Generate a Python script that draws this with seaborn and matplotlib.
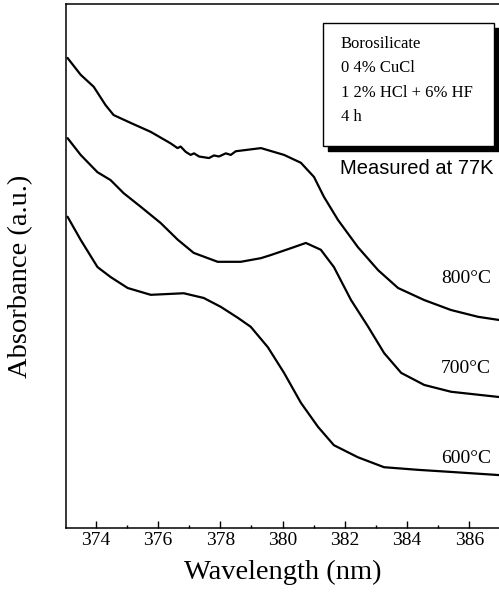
import matplotlib.pyplot as plt
import numpy as np
import pandas as pd
import seaborn as sns
from matplotlib.patches import Rectangle
from matplotlib.ticker import MultipleLocator

# values (absorbance in arbitrary units)
wl_800 = [373.10, 373.52, 373.94, 374.32, 374.58, 375.13, 375.77, 376.41, 376.63,
          376.73, 376.89, 377.05, 377.16, 377.32, 377.64, 377.80, 377.96, 378.18,
          378.34, 378.50, 378.77, 379.31, 380.05, 380.59, 381.01, 381.33, 381.78,
          382.42, 383.07, 383.71, 384.55, 385.41, 386.28, 386.95]
abs_800 = [0.897, 0.865, 0.842, 0.807, 0.788, 0.773, 0.756, 0.734, 0.725,
           0.728, 0.718, 0.712, 0.715, 0.709, 0.706, 0.711, 0.709, 0.715,
           0.712, 0.719, 0.721, 0.725, 0.712, 0.697, 0.670, 0.632, 0.588,
           0.536, 0.492, 0.458, 0.435, 0.416, 0.403, 0.397]

wl_700 = [373.10, 373.52, 374.06, 374.48, 374.90, 375.45, 376.09, 376.64, 377.15,
          377.92, 378.66, 379.31, 379.63, 380.27, 380.75, 381.23, 381.65, 382.20,
          382.75, 383.26, 383.81, 384.55, 385.41, 386.95]
abs_700 = [0.744, 0.712, 0.679, 0.664, 0.639, 0.613, 0.582, 0.550, 0.525,
           0.508, 0.508, 0.515, 0.521, 0.534, 0.544, 0.531, 0.498, 0.435,
           0.384, 0.334, 0.296, 0.273, 0.260, 0.250]

wl_600 = [373.10, 373.52, 374.06, 374.48, 375.03, 375.77, 376.83, 377.47, 378.02,
          378.57, 378.98, 379.53, 380.05, 380.59, 381.14, 381.65, 382.42, 383.26,
          384.35, 385.41, 386.95]
abs_600 = [0.594, 0.550, 0.498, 0.479, 0.458, 0.445, 0.448, 0.439, 0.422,
           0.401, 0.384, 0.345, 0.296, 0.239, 0.193, 0.158, 0.135, 0.116,
           0.111, 0.107, 0.101]

curve_labels = ["800\u00b0C", "700\u00b0C", "600\u00b0C"]
label_y = [0.477, 0.305, 0.133]
x_ticks = [374, 376, 378, 380, 382, 384, 386]
box_lines = ["Borosilicate", "0 4% CuCl", "1 2% HCl + 6% HF", "4 h"]

sns.set_style("ticks", {"text.color": "black", "axes.labelcolor": "black",
                        "xtick.color": "black", "axes.edgecolor": "black"})
plt.rcParams["font.family"] = ["Liberation Serif", "DejaVu Serif"]

fig = plt.figure(figsize=(4.99, 5.97), dpi=100)
ax = fig.add_axes([66 / 499, 1 - 528 / 597, 433 / 499, 524 / 597])

for wl, ab in [(wl_800, abs_800), (wl_700, abs_700), (wl_600, abs_600)]:
    sns.lineplot(x=wl, y=ab, ax=ax, color="black", linewidth=1.6, sort=False)

ax.set_xlim(373.05, 386.95)
ax.set_ylim(0, 1)
ax.set_xticks(x_ticks)
ax.xaxis.set_minor_locator(MultipleLocator(1))
ax.set_yticks([])
ax.tick_params(axis="x", which="major", direction="in", length=5, width=1,
               labelsize=14, pad=3, color="black", labelcolor="black")
ax.tick_params(axis="x", which="minor", direction="in", length=2.5, width=1,
               color="black")
for side in ["left", "bottom", "top"]:
    ax.spines[side].set_color("black")
    ax.spines[side].set_linewidth(1.1)
ax.spines["right"].set_visible(False)

ax.set_xlabel("Wavelength (nm)", fontsize=20.5, labelpad=8, color="black")
ax.set_ylabel("Absorbance (a.u.)", fontsize=20.5, color="black")
ax.yaxis.set_label_coords(-0.104, 0.48)
ax.yaxis.label.set_va("center")

for text, y in zip(curve_labels, label_y):
    ax.text(386.7, y, text, fontsize=14, ha="right", va="center", color="black")

# inset box with drop shadow
shadow = Rectangle((328 / 499, 1 - 151 / 597), 171 / 499, 123 / 597,
                   transform=fig.transFigure, facecolor="black",
                   edgecolor="black", zorder=5)
box = Rectangle((323 / 499, 1 - 146 / 597), 171 / 499, 123 / 597,
                transform=fig.transFigure, facecolor="white",
                edgecolor="black", linewidth=1, zorder=6)
fig.add_artist(shadow)
fig.add_artist(box)
for i, line in enumerate(box_lines):
    fig.text(341 / 499, 1 - (44 + i * 24.3) / 597, line, fontsize=12,
             ha="left", va="center", zorder=7, color="black")

fig.text(494 / 499, 1 - 169 / 597, "Measured at 77K", fontsize=14.5,
         family="Liberation Sans", ha="right", va="center", color="black")

fig.savefig("out.png", dpi=100)
